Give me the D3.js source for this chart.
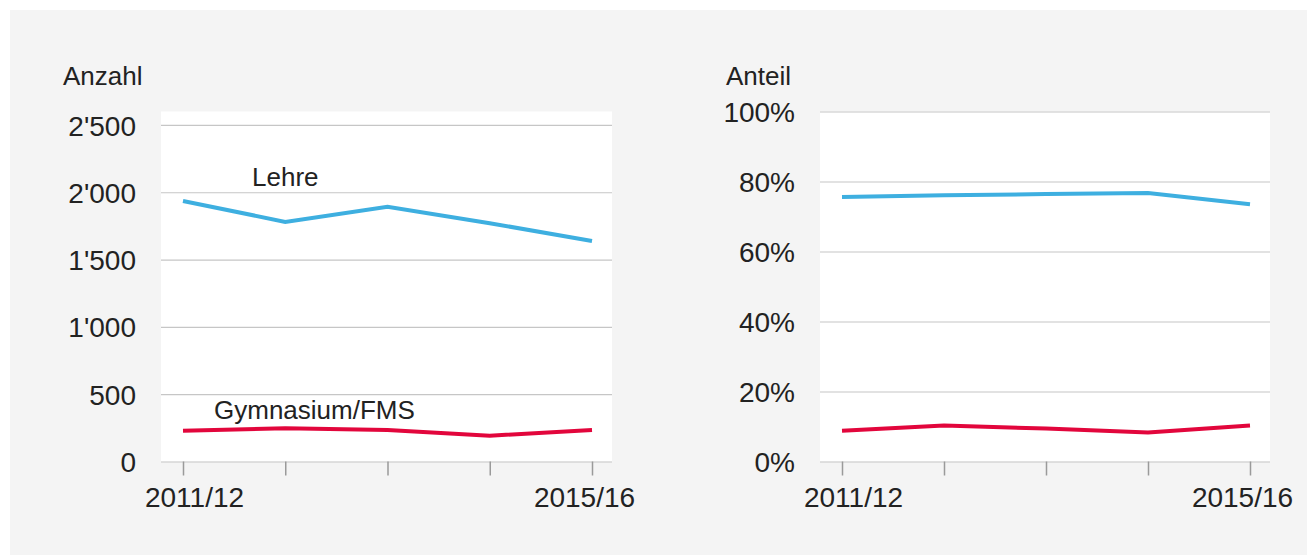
<!DOCTYPE html>
<html>
<head>
<meta charset="utf-8">
<script src="https://cdn.jsdelivr.net/npm/d3@7"></script>
<style>
  html, body { margin: 0; padding: 0; background: #fff; }
  svg { display: block; font-family: "Liberation Sans", Arial, sans-serif; }
  .grid line { stroke: #c6c6c6; stroke-width: 1.2; }
  .grid path { display: none; }
  .xaxis path { display: none; }
  .xaxis line { stroke: #9a9a9a; stroke-width: 1.5; }
  .tick text { fill: #222; }
</style>
</head>
<body>
<div id="chart"></div>
<script>
'use strict';

// Data
const years = ["2011/12", "2012/13", "2013/14", "2014/15", "2015/16"];
const tickYears = ["2011/12", "2015/16"];
const lehreCount = [1935, 1780, 1893, 1770, 1638];
const gymCount = [229, 247, 234, 192, 234];
const lehreShare = [75.6, 76.1, 76.4, 76.7, 73.5];
const gymShare = [8.8, 10.3, 9.4, 8.3, 10.3];
const countTicks = [0, 500, 1000, 1500, 2000, 2500];
const shareTicks = [0, 20, 40, 60, 80, 100];

const W = 1307, H = 558;
const blue = "#3eafe0", red = "#e2063c";

const svg = d3.select("#chart").append("svg")
  .attr("width", W)
  .attr("height", H);

// gray panel
svg.append("rect")
  .attr("x", 10).attr("y", 10)
  .attr("width", W - 10).attr("height", 545)
  .attr("fill", "#f4f4f4");

function panel(opts) {
  const g = svg.append("g");
  const x = d3.scalePoint().domain(years).range([opts.x0 + 22, opts.x1 - 20]);
  const y = d3.scaleLinear().domain(opts.domain).range([461.5, opts.top]);

  // plot background
  g.append("rect")
    .attr("x", opts.x0).attr("y", y(opts.domain[1]))
    .attr("width", opts.x1 - opts.x0)
    .attr("height", y(0) - y(opts.domain[1]))
    .attr("fill", "#fff");

  // gridlines + y labels
  const yAxis = d3.axisLeft(y)
    .tickValues(opts.ticks)
    .tickSize(-(opts.x1 - opts.x0))
    .tickPadding(25)
    .tickFormat(opts.fmt);
  g.append("g")
    .attr("class", "grid")
    .attr("transform", `translate(${opts.x0},0)`)
    .call(yAxis)
    .selectAll("text")
    .style("font-size", "28px")
    .attr("dy", "0.36em");

  // x axis ticks
  const xAxis = d3.axisBottom(x)
    .tickSize(14)
    .tickPadding(12)
    .tickFormat(d => tickYears.includes(d) ? d : "");
  const xg = g.append("g")
    .attr("class", "xaxis")
    .attr("transform", `translate(0,${y(0)})`)
    .call(xAxis);
  xg.selectAll("text")
    .style("font-size", "28px")
    .attr("dx", d => d === years[0] ? 11 : -8);

  // lines
  const line = d3.line().x((d, i) => x(years[i])).y(d => y(d));
  opts.series.forEach(s => {
    g.append("path")
      .datum(s.values)
      .attr("fill", "none")
      .attr("stroke", s.color)
      .attr("stroke-width", 4)
      .attr("d", line);
  });

  // axis title
  g.append("text")
    .attr("x", opts.titleX).attr("y", 85)
    .style("font-size", "26px")
    .attr("fill", "#222")
    .text(opts.title);

  return {x, y, g};
}

const left = panel({
  x0: 161, x1: 612, top: 111.5,
  domain: [0, 2600], ticks: countTicks,
  fmt: d => d >= 1000 ? Math.floor(d / 1000) + "'" + d3.format("03d")(d % 1000) : d,
  series: [{values: lehreCount, color: blue}, {values: gymCount, color: red}],
  title: "Anzahl", titleX: 63
});

const right = panel({
  x0: 820, x1: 1270, top: 111.5,
  domain: [0, 100], ticks: shareTicks,
  fmt: d => d + "%",
  series: [{values: lehreShare, color: blue}, {values: gymShare, color: red}],
  title: "Anteil", titleX: 726
});

// series labels
left.g.append("text")
  .attr("x", 252).attr("y", 186)
  .style("font-size", "26px").attr("fill", "#222")
  .text("Lehre");
left.g.append("text")
  .attr("x", 214).attr("y", 419)
  .style("font-size", "26px").attr("fill", "#222")
  .text("Gymnasium/FMS");
</script>
</body>
</html>
